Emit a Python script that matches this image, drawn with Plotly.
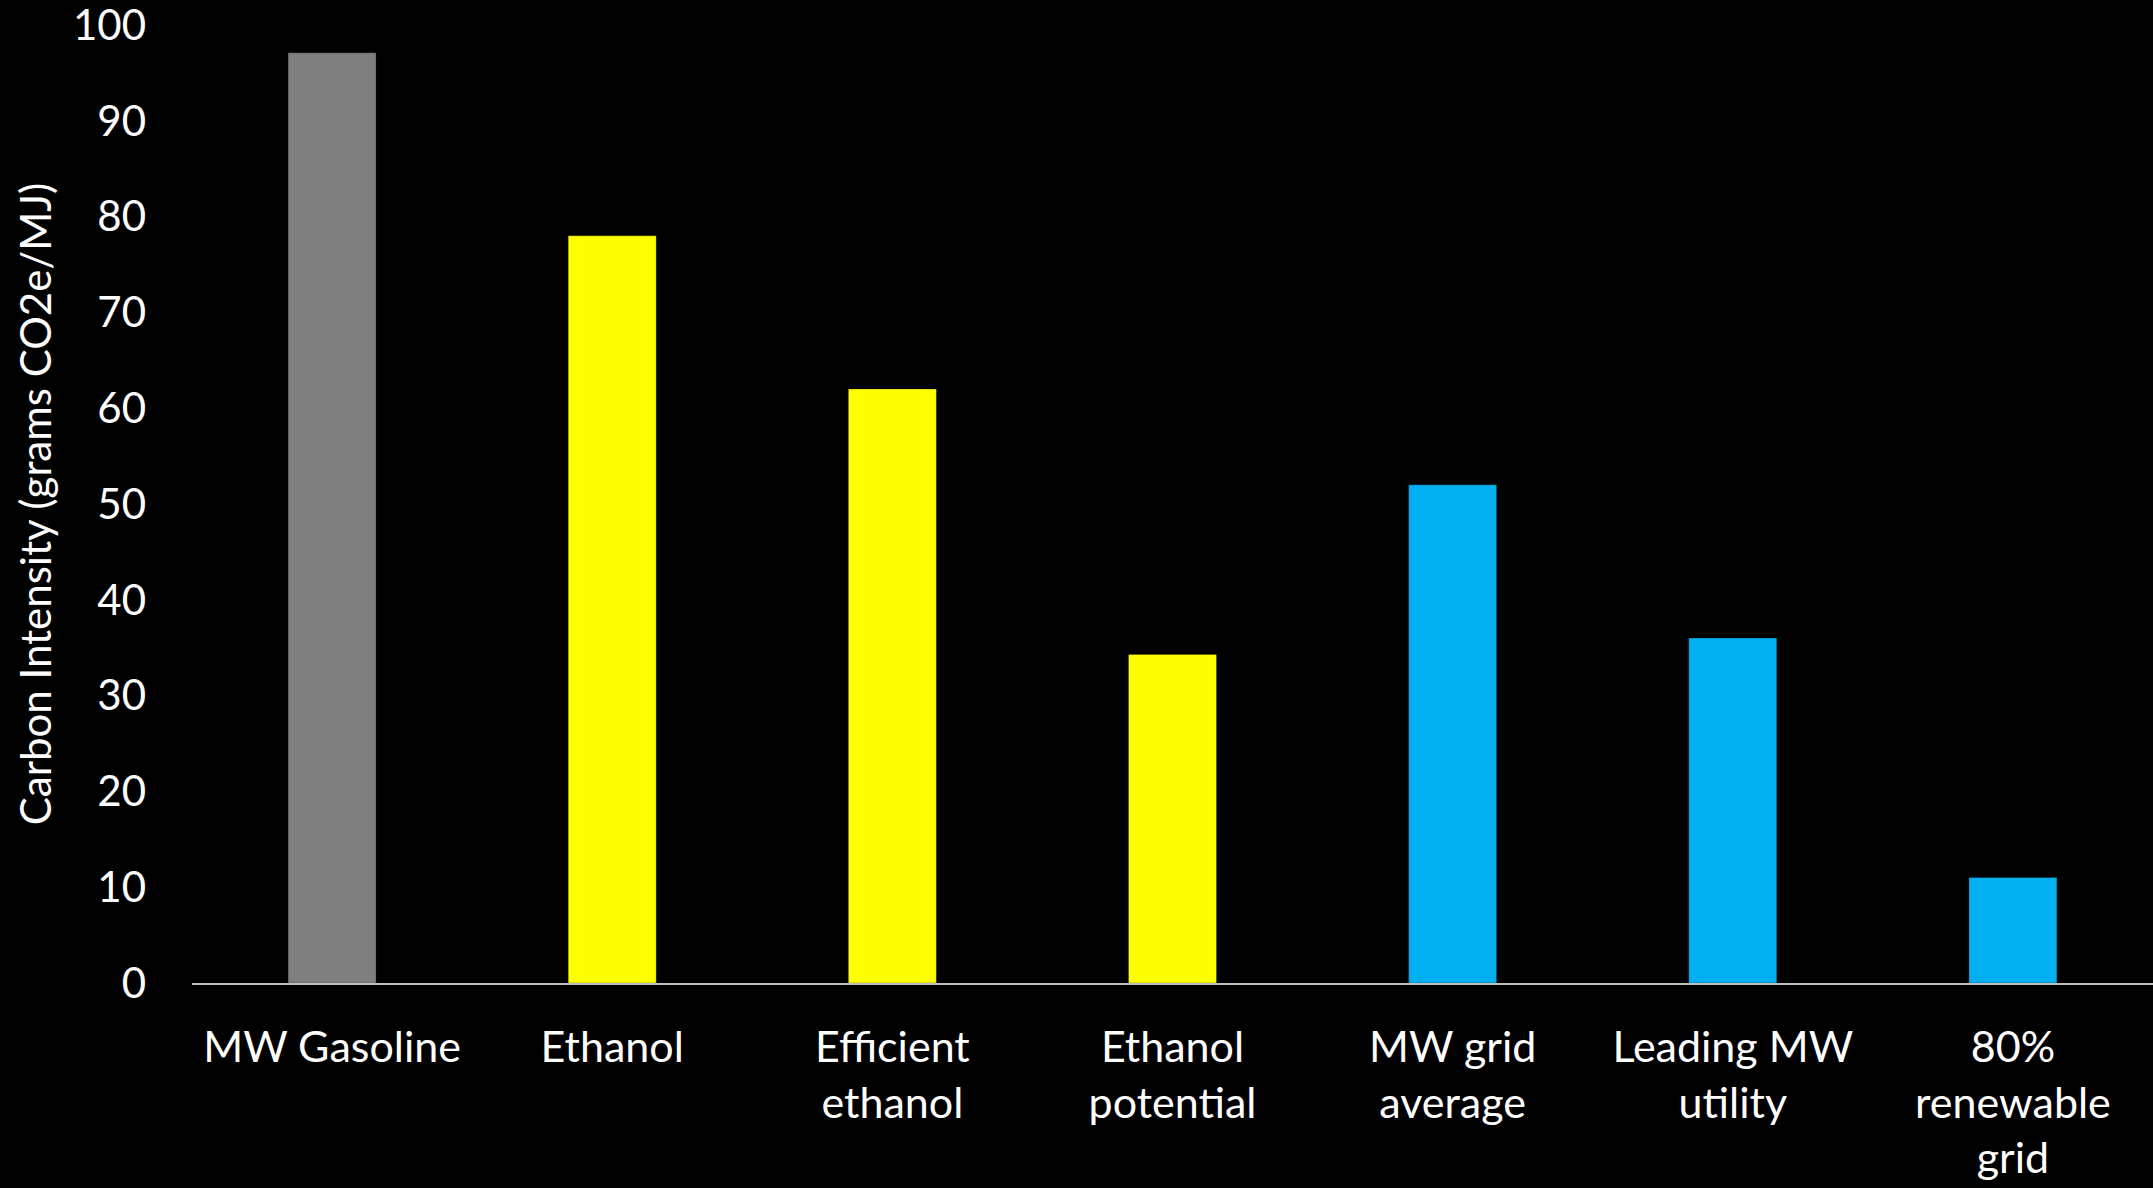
import plotly.graph_objects as go

categories = ["MW Gasoline", "Ethanol", "Efficient<br>ethanol", "Ethanol<br>potential",
              "MW grid<br>average", "Leading MW<br>utility", "80%<br>renewable<br>grid"]
values = [97.1, 78.0, 62.0, 34.3, 52.0, 36.0, 11.0]
bar_colors = ["#7f7f7f", "#ffff00", "#ffff00", "#ffff00", "#00b0f0", "#00b0f0", "#00b0f0"]
y_ticks = [0, 10, 20, 30, 40, 50, 60, 70, 80, 90, 100]

FONT = "Lato"

fig = go.Figure(go.Bar(
    x=categories, y=values,
    marker=dict(color=bar_colors, line=dict(width=1, color="rgba(0,0,0,0.25)")),
    width=0.314,
))

fig.update_layout(
    width=2153, height=1188,
    paper_bgcolor="black", plot_bgcolor="black",
    margin=dict(l=192, r=0, t=25, b=205),
    font=dict(family=FONT, color="white", size=43),
    showlegend=False,
)
fig.update_xaxes(
    showline=True, linecolor="#bfbfbf", linewidth=2,
    showgrid=False, ticks="", tickfont=dict(size=43, color="white"),
    ticklabelstandoff=25,
)
fig.update_yaxes(
    range=[0, 100], tickvals=y_ticks, showgrid=False, zeroline=False,
    showline=False, ticks="", tickfont=dict(size=42, color="white"),
    ticklabelstandoff=45, ticklabeloverflow="allow",
    title=dict(text="Carbon Intensity (grams CO2e/MJ)", font=dict(size=42, color="white"), standoff=8),
)

fig.write_html("out.html")
